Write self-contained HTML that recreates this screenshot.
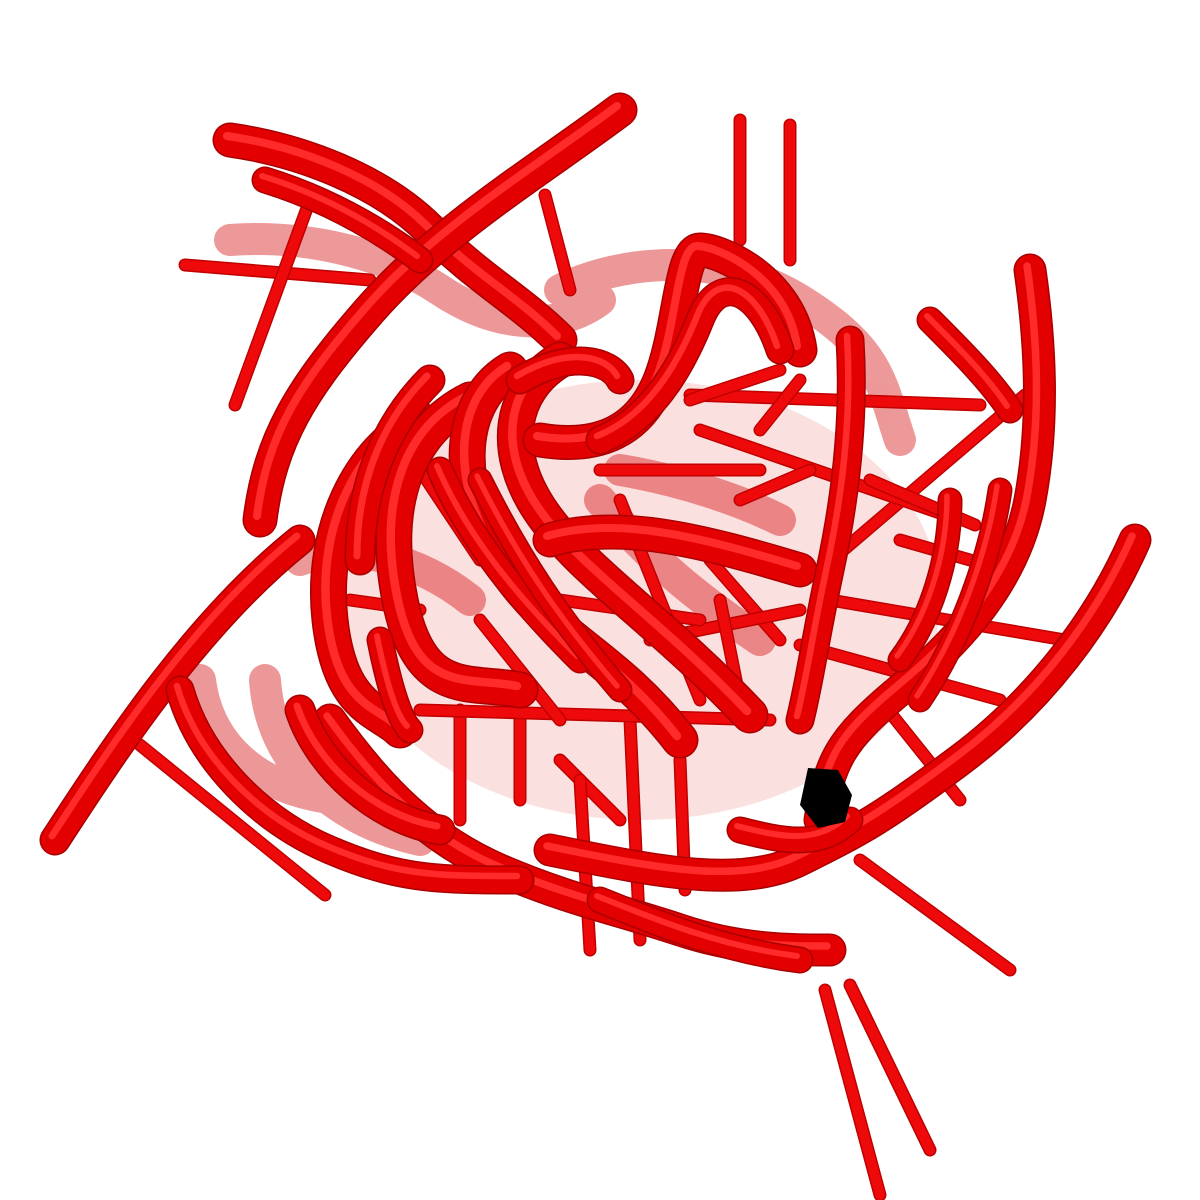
<!DOCTYPE html>
<html><head><meta charset="utf-8"><style>
html,body{margin:0;padding:0;background:#fff;}
svg{display:block;}
</style></head><body>
<svg id="scene" width="1200" height="1200" viewBox="0 0 1200 1200" xmlns="http://www.w3.org/2000/svg">
<ellipse cx="640" cy="600" rx="300" ry="220" fill="#e00000" opacity="0.12"/>
<g id="faded" opacity="0.4"></g>
<g id="rungs"></g>
<g id="tubes"></g>
<polygon points="808,768 838,770 852,795 845,822 818,828 800,805" fill="#000"/>
</svg>
<script>
const NS='http://www.w3.org/2000/svg';
const fadedTubes=[
 "M230,240 C300,235 380,250 440,290 S560,330 600,300",
 "M560,290 C620,260 720,250 800,300 S880,380 900,440",
 "M200,680 C210,760 280,800 360,800",
 "M265,680 C270,760 330,820 420,840",
 "M620,470 C680,480 740,500 780,520",
 "M600,500 C650,560 700,600 760,640",
 "M300,560 C350,540 420,560 470,600"
];
const tubes=[
 ["M55,840 C120,740 200,620 300,540",28],
 ["M230,140 C300,150 380,180 430,230 S520,300 560,340",32],
 ["M620,110 C540,170 440,230 370,310 S270,440 260,520",32],
 ["M265,180 C330,200 380,230 420,260",24],
 ["M420,420 C360,450 320,530 330,620 S380,710 400,730",34],
 ["M470,400 C410,430 380,500 400,600 S470,680 520,690",34],
 ["M510,370 C460,400 450,480 500,560 S610,650 680,740",34],
 ["M560,360 C510,390 500,450 540,510 S660,620 750,715",34],
 ["M430,380 C390,420 360,480 360,560",28],
 ["M540,440 C600,450 640,430 660,380 S680,250 700,250 S790,280 800,350",32],
 ["M600,440 C650,420 680,370 700,320 S760,290 780,350",26],
 ["M550,540 C620,520 700,540 800,570",32],
 ["M520,380 C570,350 610,360 620,380",26],
 ["M1030,270 C1040,340 1045,420 1030,500 S960,640 900,690 S830,760 820,820",30],
 ["M1135,540 C1100,620 1040,700 960,760 S860,830 800,860 S650,870 550,850",30],
 ["M330,720 C380,790 430,840 500,870 S620,910 680,930 S790,950 830,950",30],
 ["M180,690 C200,760 260,820 330,850 S440,880 520,880",26],
 ["M300,710 C320,770 380,820 440,830",28],
 ["M850,340 C855,420 845,500 830,570 S810,680 800,720",26],
 ["M930,320 C960,350 990,380 1010,410",24],
 ["M1000,490 C990,560 960,640 920,700",22],
 ["M600,900 C650,920 720,950 800,960",24],
 ["M740,830 C780,840 820,850 850,820",24],
 ["M380,640 C390,690 400,720 410,730",24],
 ["M950,500 C950,560 930,620 900,660",22],
 ["M440,470 C470,540 520,600 580,660",24],
 ["M480,480 C520,560 560,620 620,690",22]
];
const rungs=[
 [740,120,740,240],[790,125,790,260],[185,265,370,280],[310,200,235,405],
 [140,745,325,895],[860,860,1010,970],[825,990,880,1195],[850,985,930,1150],
 [1025,395,820,570],[690,395,980,405],[830,600,1065,640],[800,645,1000,700],
 [545,195,570,290],[700,430,960,520],[870,480,975,525],[780,370,690,400],
 [880,700,960,800],[630,720,640,940],[680,760,685,890],[460,710,460,820],
 [520,700,520,800],[420,710,770,720],[560,760,620,820],[740,500,810,470],
 [710,560,780,640],[600,470,760,470],[420,470,480,560],[350,600,420,610],
 [580,780,590,950],[760,430,800,380],[900,540,970,560],[650,640,800,610],
 [560,600,700,620],[620,500,700,700],[720,600,740,700],[480,620,560,720]
];
function mk(tag,attrs){const e=document.createElementNS(NS,tag);for(const k in attrs)e.setAttribute(k,attrs[k]);return e;}
const gF=document.getElementById('faded'),gR=document.getElementById('rungs'),gT=document.getElementById('tubes');
fadedTubes.forEach(d=>{
 const p=mk('path',{d:d,fill:'none',stroke:'#d40000','stroke-width':32,'stroke-linecap':'round'});
 
 
 gF.appendChild(p);
});
rungs.forEach(r=>{
 const a=mk('line',{x1:r[0],y1:r[1],x2:r[2],y2:r[3],stroke:'#c00000','stroke-width':13,'stroke-linecap':'round'});
 
 
 gR.appendChild(a);
 const b=mk('line',{x1:r[0],y1:r[1],x2:r[2],y2:r[3],stroke:'#ee0a0a','stroke-width':10,'stroke-linecap':'round'});
 
 
 gR.appendChild(b);
});
tubes.forEach(t=>{
 const w=t[1];
 const e=mk('path',{d:t[0],fill:'none',stroke:'#a80000','stroke-width':w+3,'stroke-linecap':'round'});
 
 
 gT.appendChild(e);
 const m=mk('path',{d:t[0],fill:'none',stroke:'#e20000','stroke-width':w,'stroke-linecap':'round'});
 
 
 gT.appendChild(m);
 const h=mk('path',{d:t[0],fill:'none',stroke:'#ff2a2a','stroke-width':w*0.25,'stroke-linecap':'round',transform:'translate(-3,-4)'});
 
 
 gT.appendChild(h);
});
</script>
</body></html>
